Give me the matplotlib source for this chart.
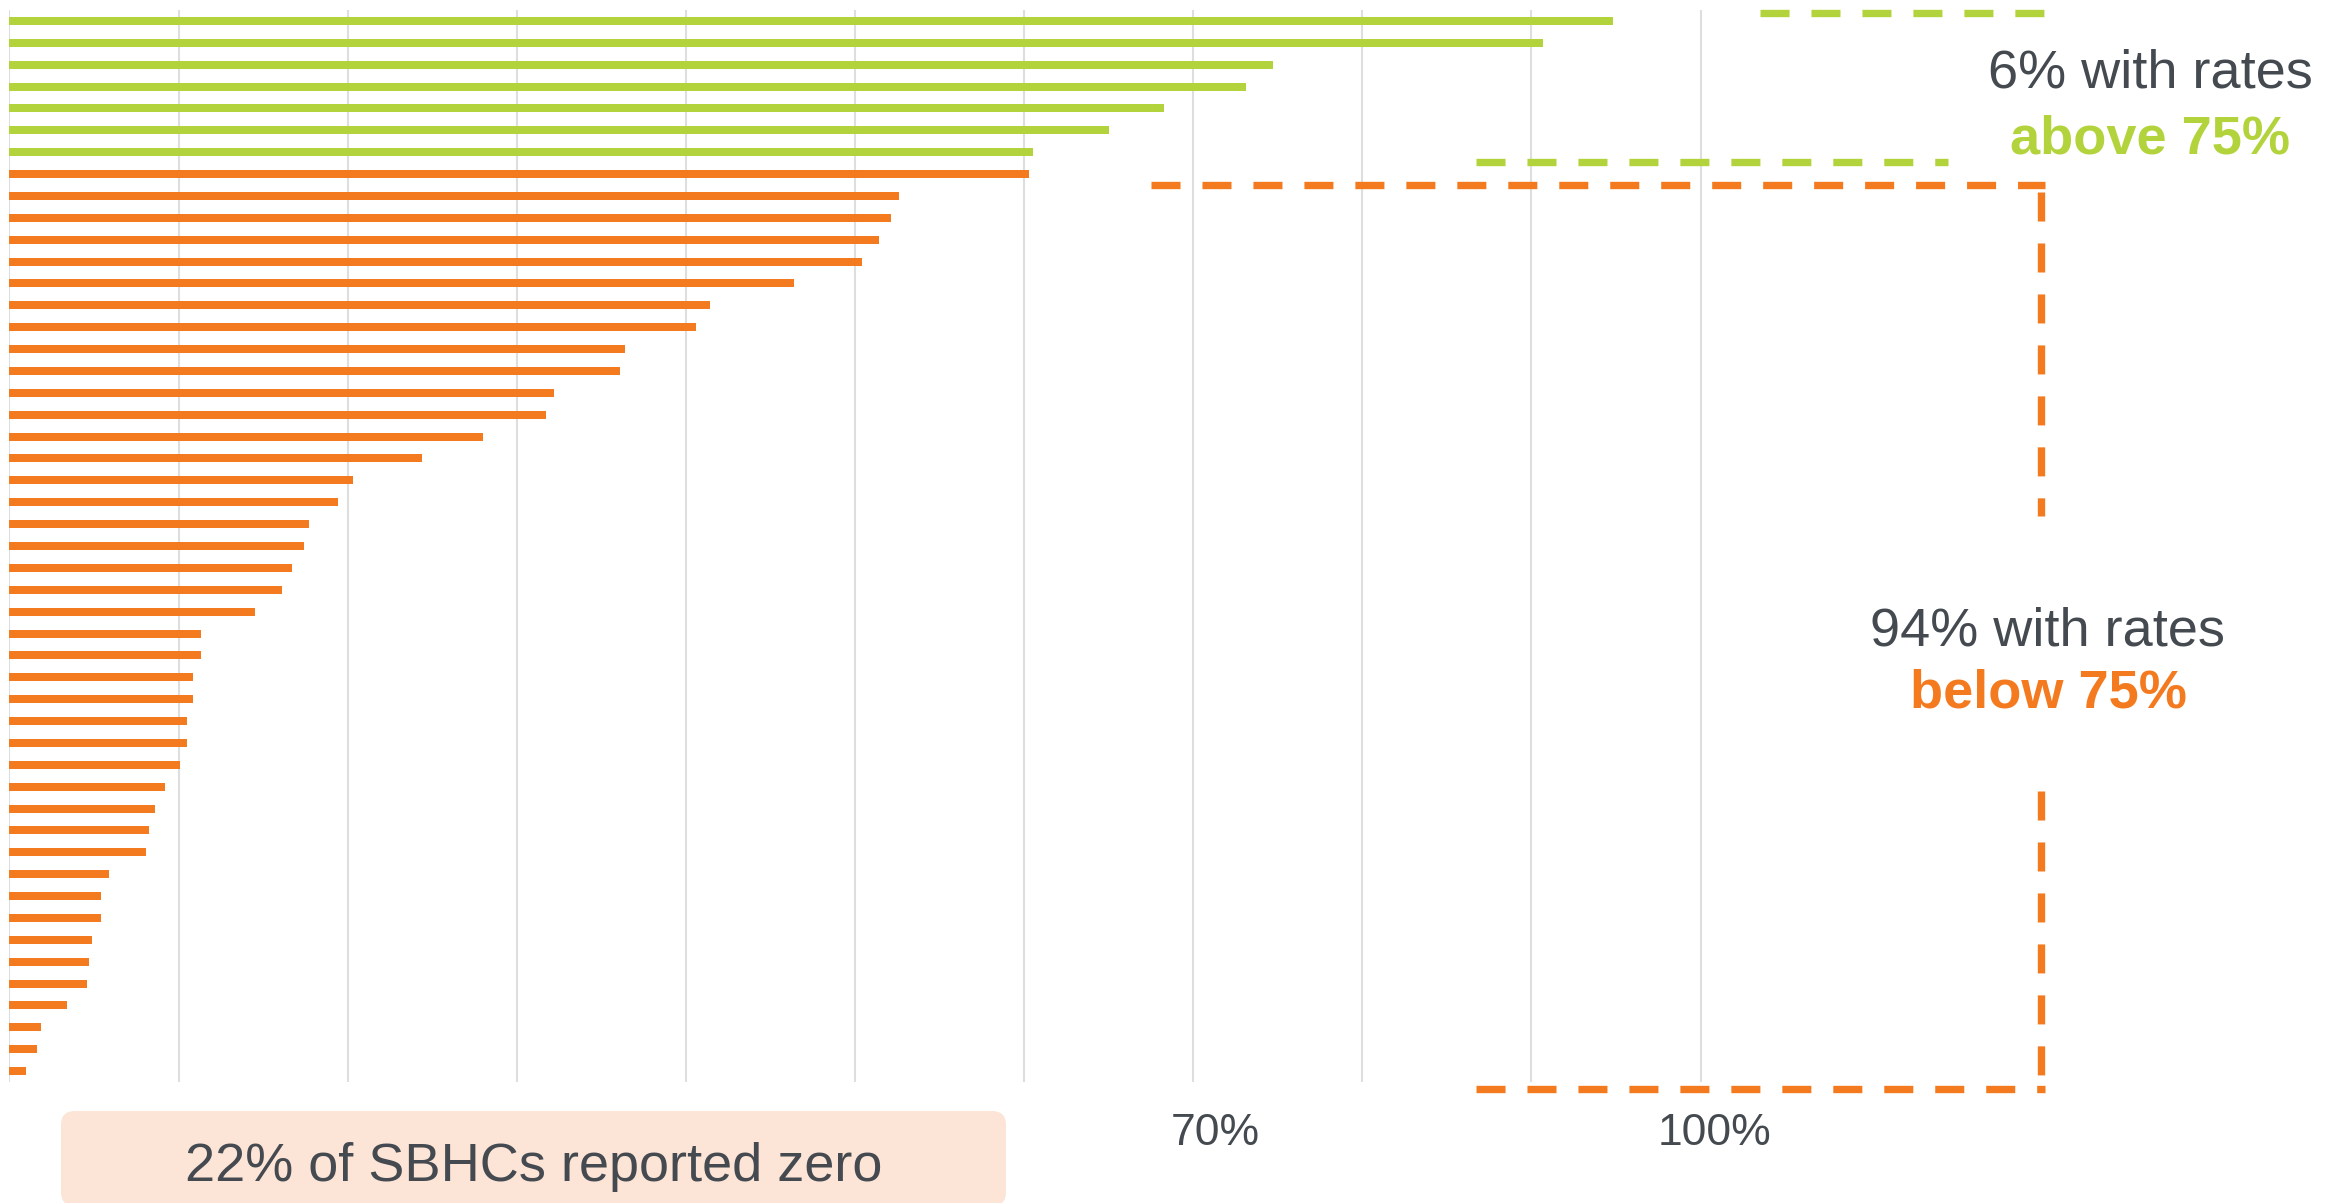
import numpy as np
import matplotlib
matplotlib.use("Agg")
import matplotlib.pyplot as plt
from matplotlib.lines import Line2D
from matplotlib.patches import FancyBboxPatch
from matplotlib.transforms import Affine2D, ScaledTranslation

# ---------------- data ----------------
above_rates = [0.948, 0.907, 0.747, 0.731, 0.683, 0.650, 0.605]
below_rates = [0.603, 0.526, 0.521, 0.514, 0.504, 0.464, 0.414, 0.406, 0.364, 0.361,
               0.322, 0.317, 0.280, 0.244, 0.203, 0.194, 0.177, 0.174, 0.167, 0.161,
               0.145, 0.113, 0.113, 0.1085, 0.1085, 0.105, 0.105, 0.101, 0.092, 0.086,
               0.0825, 0.081, 0.059, 0.054, 0.054, 0.049, 0.047, 0.046, 0.034, 0.0186,
               0.016, 0.010]
grid_ticks = [0.0, 0.1, 0.2, 0.3, 0.4, 0.5, 0.6, 0.7, 0.8, 0.9, 1.0]
tick_labels = ["", "", "", "", "", "", "", "70%", "", "", "100%"]
label_above = ["6% with rates", "above 75%"]
label_below = ["94% with rates", "below 75%"]
zero_note = "22% of SBHCs reported zero"

GREEN = "#B2D33C"
ORANGE = "#F47A20"
TEXT = "#444A50"
GRID = "#DDDEDE"
BOX = "#FCE4D6"

plt.rcParams["font.family"] = ["Liberation Sans", "DejaVu Sans"]
plt.rcParams["lines.scale_dashes"] = False

W, H, DPI = 2344, 1203, 100
fig = plt.figure(figsize=(W / DPI, H / DPI), dpi=DPI)
fig.patch.set_facecolor("white")

# pixel transform (y downward) for annotations
PX = Affine2D().scale(1.0 / W, -1.0 / H).translate(0, 1) + fig.transFigure

x0, x100 = 9.5, 1700.5
unit = x100 - x0
ax = fig.add_axes([x0 / W, 1 - 1082 / H, 1.2 * unit / W, 1072 / H])

vals = above_rates + below_rates
cols = [GREEN] * len(above_rates) + [ORANGE] * len(below_rates)
ypos = np.arange(len(vals))
ax.barh(ypos, vals, height=0.366, color=cols, zorder=2)
ax.set_ylim(len(vals) - 0.5, -0.5)
ax.set_xlim(0, 1.2)

ax.set_xticks(grid_ticks)
ax.set_xticklabels(tick_labels, fontsize=32, color=TEXT)
ax.tick_params(axis="x", length=0, pad=22)
ax.set_yticks([])
ax.xaxis.grid(True, color=GRID, linewidth=1.5, zorder=0)
ax.set_axisbelow(True)
for s in ax.spines.values():
    s.set_visible(False)
ax.patch.set_alpha(0)

offsets = {"70%": 22, "100%": 14}
for lab in ax.get_xticklabels():
    t = lab.get_text()
    if t in offsets:
        lab.set_transform(lab.get_transform() +
                          ScaledTranslation(offsets[t] / DPI, 0, fig.dpi_scale_trans))

# ---------------- dashed brackets ----------------
dash = (0, (20.9, 15.8))
lw = 5.3

def dline(xs, ys, color):
    fig.add_artist(Line2D(xs, ys, transform=PX, color=color, lw=lw, linestyle=dash,
                          dash_capstyle="butt", solid_capstyle="butt"))

dline([1760, 2045], [12.5, 12.5], GREEN)
dline([1476, 1948], [162, 162], GREEN)
dline([1151, 2045], [185, 185], ORANGE)
dline([2041, 2041], [192, 516], ORANGE)
dline([2041, 2041], [791, 1085], ORANGE)
dline([1476, 2045], [1089, 1089], ORANGE)

# ---------------- annotation texts ----------------
fig.text(2150, 88, label_above[0], transform=PX, ha="center", va="baseline",
         fontsize=39, color=TEXT)
fig.text(2150, 153, label_above[1], transform=PX, ha="center", va="baseline",
         fontsize=39, color=GREEN, fontweight="bold")
fig.text(2047, 645, label_below[0], transform=PX, ha="center", va="baseline",
         fontsize=39, color=TEXT)
fig.text(2048, 708, label_below[1], transform=PX, ha="center", va="baseline",
         fontsize=39, color=ORANGE, fontweight="bold")

# ---------------- zero-note box ----------------
box = FancyBboxPatch((61, 1111), 945, 95, transform=PX,
                     boxstyle="round,pad=0,rounding_size=14",
                     facecolor=BOX, edgecolor="none")
fig.add_artist(box)
fig.text(534, 1181, zero_note, transform=PX, ha="center", va="baseline",
         fontsize=39, color=TEXT)

fig.savefig("out.png", dpi=DPI, facecolor="white")
